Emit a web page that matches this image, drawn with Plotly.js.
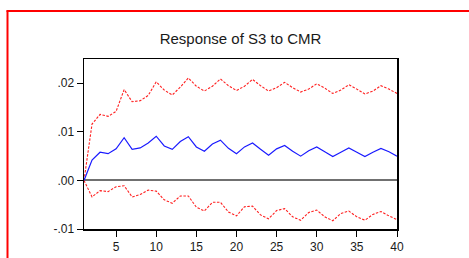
<!DOCTYPE html>
<html>
<head>
<meta charset="utf-8">
<script src="https://cdn.plot.ly/plotly-3.0.1.min.js"></script>
<style>html,body{margin:0;padding:0;background:#fff;}#chart{width:469px;height:258px;}</style>
</head>
<body>
<div id="chart"></div>
<script>
var periods = [];
for (var i = 1; i <= 40; i++) periods.push(i);

var response = [0, 0.0042, 0.0058, 0.0055, 0.0065, 0.0088, 0.0064, 0.0067, 0.0077, 0.0091,
  0.0071, 0.0064, 0.0080, 0.0090, 0.0069, 0.0060, 0.0075, 0.0083, 0.0066, 0.0055,
  0.0069, 0.0077, 0.0064, 0.0052, 0.0065, 0.0072, 0.0060, 0.0050, 0.0061, 0.0069,
  0.0059, 0.0049, 0.0058, 0.0067, 0.0058, 0.0049, 0.0058, 0.0066, 0.0059, 0.0050];

var upperBand = [0, 0.0116, 0.0136, 0.0132, 0.0142, 0.0187, 0.0162, 0.0164, 0.0175, 0.0203,
  0.0186, 0.0176, 0.0192, 0.0211, 0.0194, 0.0184, 0.0194, 0.0209, 0.0195, 0.0185,
  0.0194, 0.0208, 0.0195, 0.0184, 0.0191, 0.0202, 0.0191, 0.0182, 0.0188, 0.0199,
  0.0190, 0.0179, 0.0186, 0.0197, 0.0188, 0.0178, 0.0184, 0.0195, 0.0188, 0.0179];

var lowerBand = [0, -0.0034, -0.0021, -0.0023, -0.0013, -0.0011, -0.0034, -0.0029, -0.0020, -0.0022,
  -0.0040, -0.0047, -0.0032, -0.0032, -0.0055, -0.0063, -0.0045, -0.0045, -0.0065, -0.0073,
  -0.0054, -0.0053, -0.0071, -0.0079, -0.0062, -0.0058, -0.0075, -0.0082, -0.0066, -0.0061,
  -0.0075, -0.0083, -0.0068, -0.0063, -0.0075, -0.0082, -0.0070, -0.0064, -0.0073, -0.0081];

var xTickVals = [5, 10, 15, 20, 25, 30, 35, 40];
var yTickVals = [-0.01, 0, 0.01, 0.02];
var yTickText = ['-.01', '.00', '.01', '.02'];

var traces = [
  {x: periods, y: upperBand, type: 'scatter', mode: 'lines',
   line: {color: '#ff2020', width: 1.1, dash: '2.5px,1.5px'}, hoverinfo: 'skip'},
  {x: periods, y: lowerBand, type: 'scatter', mode: 'lines',
   line: {color: '#ff2020', width: 1.1, dash: '2.5px,1.5px'}, hoverinfo: 'skip'},
  {x: periods, y: response, type: 'scatter', mode: 'lines',
   line: {color: '#1a1aff', width: 1.2}, hoverinfo: 'skip'}
];

var layout = {
  width: 469, height: 258,
  margin: {l: 84, r: 72, t: 59, b: 29, pad: 0},
  paper_bgcolor: '#ffffff', plot_bgcolor: '#ffffff',
  showlegend: false,
  font: {family: '"Liberation Sans", Arial, sans-serif', color: '#1a1a1a', size: 12},
  title: {text: 'Response of S3 to CMR', font: {size: 15, color: '#1a1a1a'},
          x: 0.5, xref: 'paper', xanchor: 'center', y: 1 - 39/258, yanchor: 'middle'},
  xaxis: {range: [1, 40], tickvals: xTickVals, ticks: 'outside', ticklen: 6, tickwidth: 1,
          tickcolor: '#000', showgrid: false, zeroline: false, showline: true,
          linecolor: '#000', linewidth: 1.5, mirror: true, fixedrange: true,
          tickfont: {size: 12}},
  yaxis: {range: [-0.01, 0.025], tickvals: yTickVals, ticktext: yTickText, ticks: 'outside',
          ticklen: 6, tickwidth: 1, tickcolor: '#000', showgrid: false,
          zeroline: true, zerolinecolor: '#707070', zerolinewidth: 2,
          showline: true, linecolor: '#000', linewidth: 1.5, mirror: true, fixedrange: true,
          tickfont: {size: 12}},
  shapes: [
    {type: 'line', xref: 'paper', yref: 'paper', x0: (7.5 - 84) / 313, x1: (7.5 - 84) / 313,
     y0: (229 - 10.5) / 170, y1: (229 - 262) / 170, line: {color: '#ff0000', width: 2}},
    {type: 'line', xref: 'paper', yref: 'paper', x0: (6.5 - 84) / 313, x1: (472 - 84) / 313,
     y0: (229 - 11) / 170, y1: (229 - 11) / 170, line: {color: '#ff0000', width: 2}}
  ]
};

Plotly.newPlot('chart', traces, layout, {staticPlot: true, displayModeBar: false});
</script>
</body>
</html>
